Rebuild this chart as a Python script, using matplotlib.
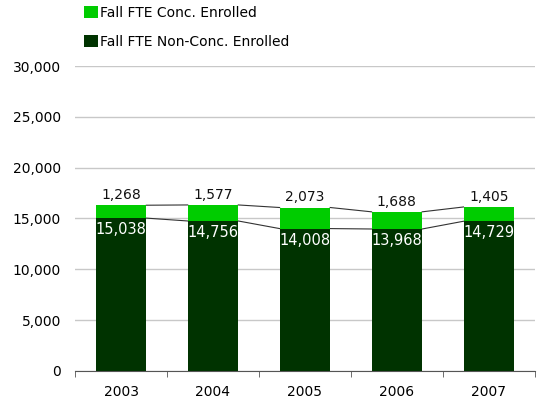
import matplotlib
matplotlib.use('Agg')
import matplotlib.pyplot as plt
from matplotlib.patches import Patch
import numpy as np

years = ['2003', '2004', '2005', '2006', '2007']
non_conc = [15038, 14756, 14008, 13968, 14729]
conc = [1268, 1577, 2073, 1688, 1405]

DARK = '#003300'
BRIGHT = '#00CC00'
FONT = 'DejaVu Sans'

fig = plt.figure(figsize=(5.44, 4.05), dpi=100)
ax = fig.add_axes([0.138, 0.084, 0.845, 0.753])

x = np.arange(len(years))
w = 0.55
ax.bar(x, non_conc, w, color=DARK, zorder=3)
ax.bar(x, conc, w, bottom=non_conc, color=BRIGHT, zorder=3)

totals = np.array(non_conc) + np.array(conc)
# series lines between bars
for i in range(len(years) - 1):
    for series in (non_conc, totals):
        ax.plot([x[i] + w/2, x[i+1] - w/2], [series[i], series[i+1]],
                color='#333333', lw=0.8, zorder=2)

for i in range(len(years)):
    ax.text(x[i], totals[i] + 300, f'{conc[i]:,}', ha='center', va='bottom',
            fontsize=10, color='#111111', family=FONT, zorder=4)
    ax.text(x[i], non_conc[i] - 400, f'{non_conc[i]:,}', ha='center', va='top',
            fontsize=10.5, color='white', family=FONT, zorder=4)

ax.set_xlim(-0.5, len(years) - 0.5)
ax.set_ylim(0, 30000)
ax.set_yticks(np.arange(0, 30001, 5000))
ax.set_yticklabels([f'{v:,}' for v in range(0, 30001, 5000)], fontsize=10, family=FONT)
ax.yaxis.grid(True, color='#C8C8C8', lw=1, zorder=0)
ax.tick_params(axis='y', length=0, pad=10)
ax.set_xticks(x)
ax.set_xticklabels(years, fontsize=10, family=FONT)
ax.set_xticks(np.arange(-0.5, len(years), 1), minor=True)
ax.tick_params(axis='x', which='major', length=0, pad=10)
ax.tick_params(axis='x', which='minor', length=4, color='#555555')
for s in ('top', 'right', 'left'):
    ax.spines[s].set_visible(False)
ax.spines['bottom'].set_color('#555555')

handles = [Patch(fc=BRIGHT), Patch(fc=DARK)]
fig.legend(handles, ['Fall FTE Conc. Enrolled', 'Fall FTE Non-Conc. Enrolled'],
           loc='upper left', bbox_to_anchor=(0.131, 1.017), frameon=False,
           prop={'family': FONT, 'size': 10}, handlelength=1.0, handleheight=1.0,
           handletextpad=0.2, labelspacing=1.1)

fig.savefig('out.png', dpi=100, facecolor='white')
